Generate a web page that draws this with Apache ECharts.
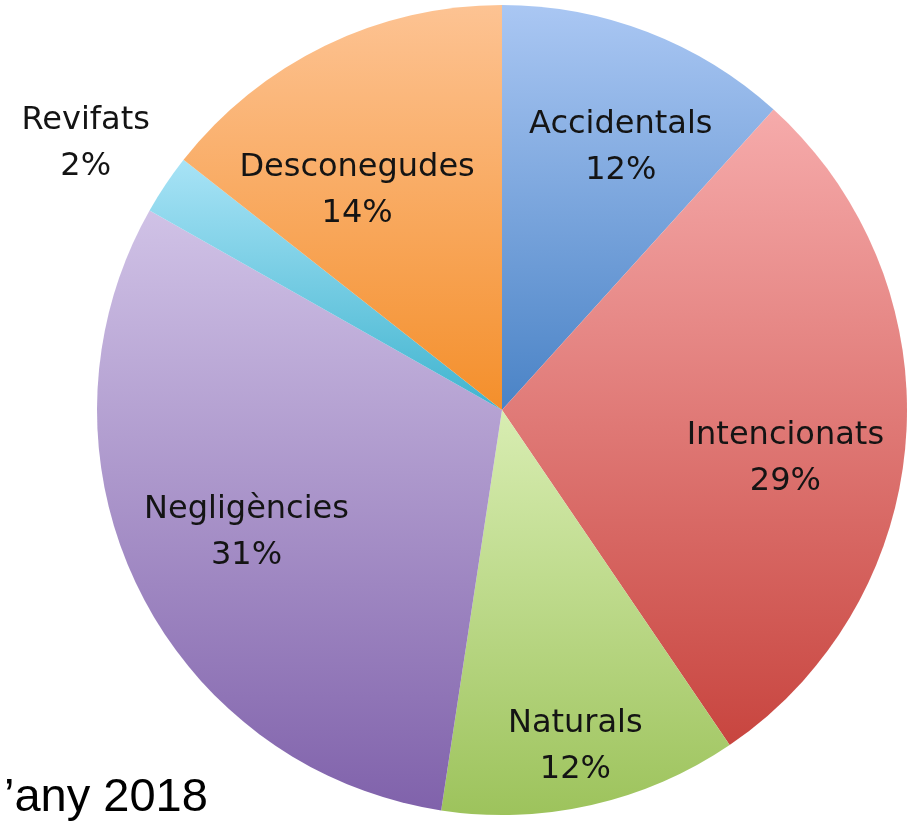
<!DOCTYPE html>
<html>
<head>
<meta charset="utf-8">
<script src="https://cdn.jsdelivr.net/npm/echarts@6/dist/echarts.min.js"></script>
<style>
html,body{margin:0;padding:0;background:#fff;}
#chart{width:907px;height:824px;}
</style>
</head>
<body>
<div id="chart"></div>
<script>
// Data
const categories = ['Accidentals', 'Intencionats', 'Naturals', 'Negligències', 'Revifats', 'Desconegudes'];
const values = [11.7, 28.8, 11.9, 30.8, 2.4, 14.4];
const captionText = '\u2019any 2018';

// Style
const gradTop = ['#aac7f3', '#f6abab', '#d8edb2', '#d0c2e6', '#a8e3f6', '#fdc393'];
const gradBottom = ['#4a83c6', '#c8453f', '#9dc35c', '#8062ab', '#40b4cf', '#f48f2b'];
const labelPlace = [[0.71, 24.4], [0.71, 99.8], [0.85, 167.7], [0.70, 244.3], [1.22, 302.6], [0.65, 326.6]];
const CX = 502, CY = 410, R = 405;

const chart = echarts.init(document.getElementById('chart'), null, {renderer: 'canvas'});
const data = categories.map((name, i) => ({
  name: name,
  value: values[i],
  itemStyle: {
    color: new echarts.graphic.LinearGradient(0, 0, 0, 1, [
      {offset: 0, color: gradTop[i]},
      {offset: 1, color: gradBottom[i]}
    ])
  }
}));

chart.setOption({
  animation: false,
  backgroundColor: '#ffffff',
  title: {
    text: captionText,
    left: 4,
    top: 775,
    padding: 0,
    textStyle: {fontFamily: 'Liberation Sans, Arial, sans-serif', fontSize: 47, fontWeight: 'normal', color: '#000'}
  },
  series: [{
    type: 'pie',
    center: [CX, CY],
    radius: [0, R],
    startAngle: 90,
    clockwise: true,
    avoidLabelOverlap: false,
    itemStyle: {borderWidth: 0},
    emphasis: {disabled: true},
    label: {
      show: true,
      position: 'inside',
      formatter: p => p.name + '\n' + Math.round(p.value) + '%',
      fontFamily: 'DejaVu Sans, sans-serif',
      fontSize: 32,
      lineHeight: 46,
      color: '#141414',
      align: 'center'
    },
    labelLine: {show: false},
    labelLayout: function (p) {
      const pl = labelPlace[p.dataIndex];
      const a = pl[1] * Math.PI / 180;
      return {
        x: CX + pl[0] * R * Math.sin(a),
        y: CY - pl[0] * R * Math.cos(a),
        align: 'center',
        verticalAlign: 'middle'
      };
    },
    data: data
  }]
});
</script>
</body>
</html>
